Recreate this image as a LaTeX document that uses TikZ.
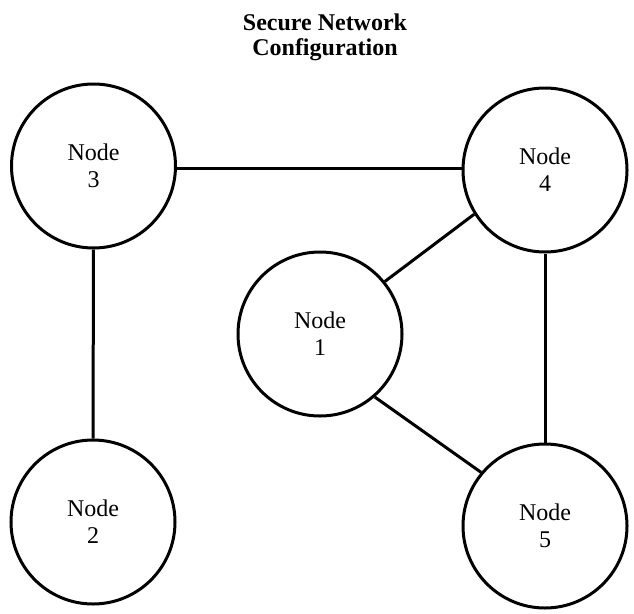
\documentclass[tikz,border=0pt]{standalone}
\usepackage{fontspec}
\setmainfont{Liberation Serif}
\begin{document}
\begin{tikzpicture}[x=1pt,y=-1pt,
  netnode/.style={circle,draw,line width=3pt,minimum size=164pt,inner sep=0pt,align=center,font=\fontsize{24}{27}\selectfont},
  link/.style={line width=3pt}]
\useasboundingbox (0,0) rectangle (634,613);
\node[font=\bfseries\fontsize{24}{25}\selectfont,align=center] (title) at (325,37) {Secure Network\\Configuration};
\node[netnode] (n3) at (93.5,166) {Node\\3};
\node[netnode] (n4) at (545,170) {Node\\4};
\node[netnode] (n1) at (320,334) {Node\\1};
\node[netnode] (n2) at (93,522) {Node\\2};
\node[netnode] (n5) at (545,526) {Node\\5};
\draw[link] ([yshift=-2pt]n3.east) -- ([yshift=2pt]n4.west);
\draw[link] (n3.south) -- (n2.north);
\draw[link] (n4.212) -- (n1.39);
\draw[link] (n4.south) -- (n5.north);
\draw[link] (n1.-49) -- (n5.140);
\end{tikzpicture}
\end{document}
